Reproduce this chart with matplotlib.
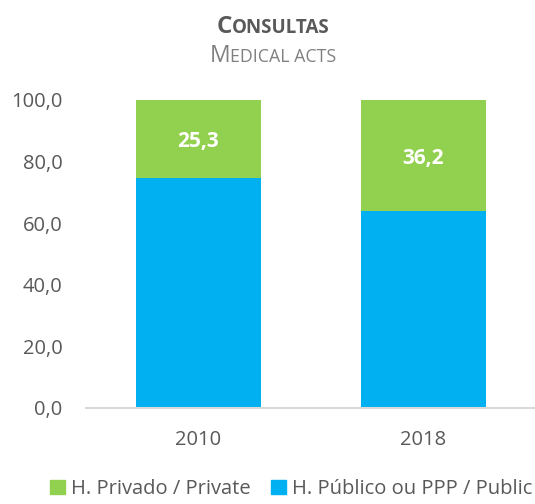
import matplotlib
matplotlib.use("Agg")
import matplotlib.pyplot as plt
from matplotlib.patches import Patch

years = ["2010", "2018"]
public = [74.7, 63.8]
private = [25.3, 36.2]
yticks = [0, 20, 40, 60, 80, 100]
ytick_labels = ["0,0", "20,0", "40,0", "60,0", "80,0", "100,0"]
series_names = ["H. Privado / Private", "H. Público ou PPP / Public"]

GREEN = "#92D050"
BLUE = "#00B0F0"
GRAY = "#595959"
FONT = "Open Sans"

W, H = 535, 504
fig = plt.figure(figsize=(W / 100, H / 100), dpi=100)
ax = fig.add_axes([86 / W, (H - 408) / H, 1 - 86 / W + 0.01, 308 / H])

x = list(range(len(years)))
ax.bar(x, public, width=0.556, color=BLUE, zorder=2)
ax.bar(x, private, bottom=public, width=0.556, color=GREEN, zorder=2)
for xi, pb, pv in zip(x, public, private):
    ax.text(xi, pb + pv / 2 - 0.8, f"{pv:.1f}".replace(".", ","), ha="center", va="center",
            color="white", fontsize=15, fontweight="bold", family=FONT)

ax.set_xlim(-0.5, 1.52)
ax.set_ylim(0, 100)
ax.set_xticks(x)
ax.set_xticklabels(years, family=FONT, fontsize=14.5, color=GRAY)
ax.set_yticks(yticks)
ax.set_yticklabels(ytick_labels, family=FONT, fontsize=14.5, color=GRAY)
ax.tick_params(axis="both", length=0)
ax.tick_params(axis="y", pad=17)
ax.tick_params(axis="x", pad=16)
for s in ["top", "right", "left"]:
    ax.spines[s].set_visible(False)
ax.spines["bottom"].set_color("#D9D9D9")
ax.spines["bottom"].set_linewidth(1.5)
ax.spines["bottom"].set_zorder(3)

# Small-caps title and subtitle
fig.canvas.draw()
renderer = fig.canvas.get_renderer()

def small_caps(text, y_px, big, small, color, weight, cx):
    parts = []
    for ch in text:
        size = big if (ch.isupper()) else small
        if parts and parts[-1][1] == size:
            parts[-1] = (parts[-1][0] + ch, size)
        else:
            parts.append((ch, size))
    arts = []
    for s, size in parts:
        t = fig.text(0, 1 - y_px / H, s.upper(), fontsize=size, color=color, fontweight=weight,
                     family=FONT, ha="left", va="baseline")
        arts.append(t)
    widths = [t.get_window_extent(renderer).width for t in arts]
    total = sum(widths)
    xcur = cx - total / 2
    for t, w in zip(arts, widths):
        t.set_x(xcur / W)
        xcur += w

small_caps("Consultas", 33, 17.5, 13.5, GRAY, "bold", 273)
small_caps("Medical acts", 62, 16.5, 12.8, "#808080", "normal", 273)

handles = [Patch(facecolor=GREEN, edgecolor=GREEN), Patch(facecolor=BLUE, edgecolor=BLUE)]
fig.legend(handles, series_names, loc="center", bbox_to_anchor=(291 / W, 1 - 489 / H),
           ncol=2, frameon=False, handlelength=0.75, handleheight=0.75, handletextpad=0.3,
           columnspacing=1.0, prop={"family": FONT, "size": 14.5}, labelcolor=GRAY,
           borderpad=0, borderaxespad=0)

fig.savefig("out.png", dpi=100)
